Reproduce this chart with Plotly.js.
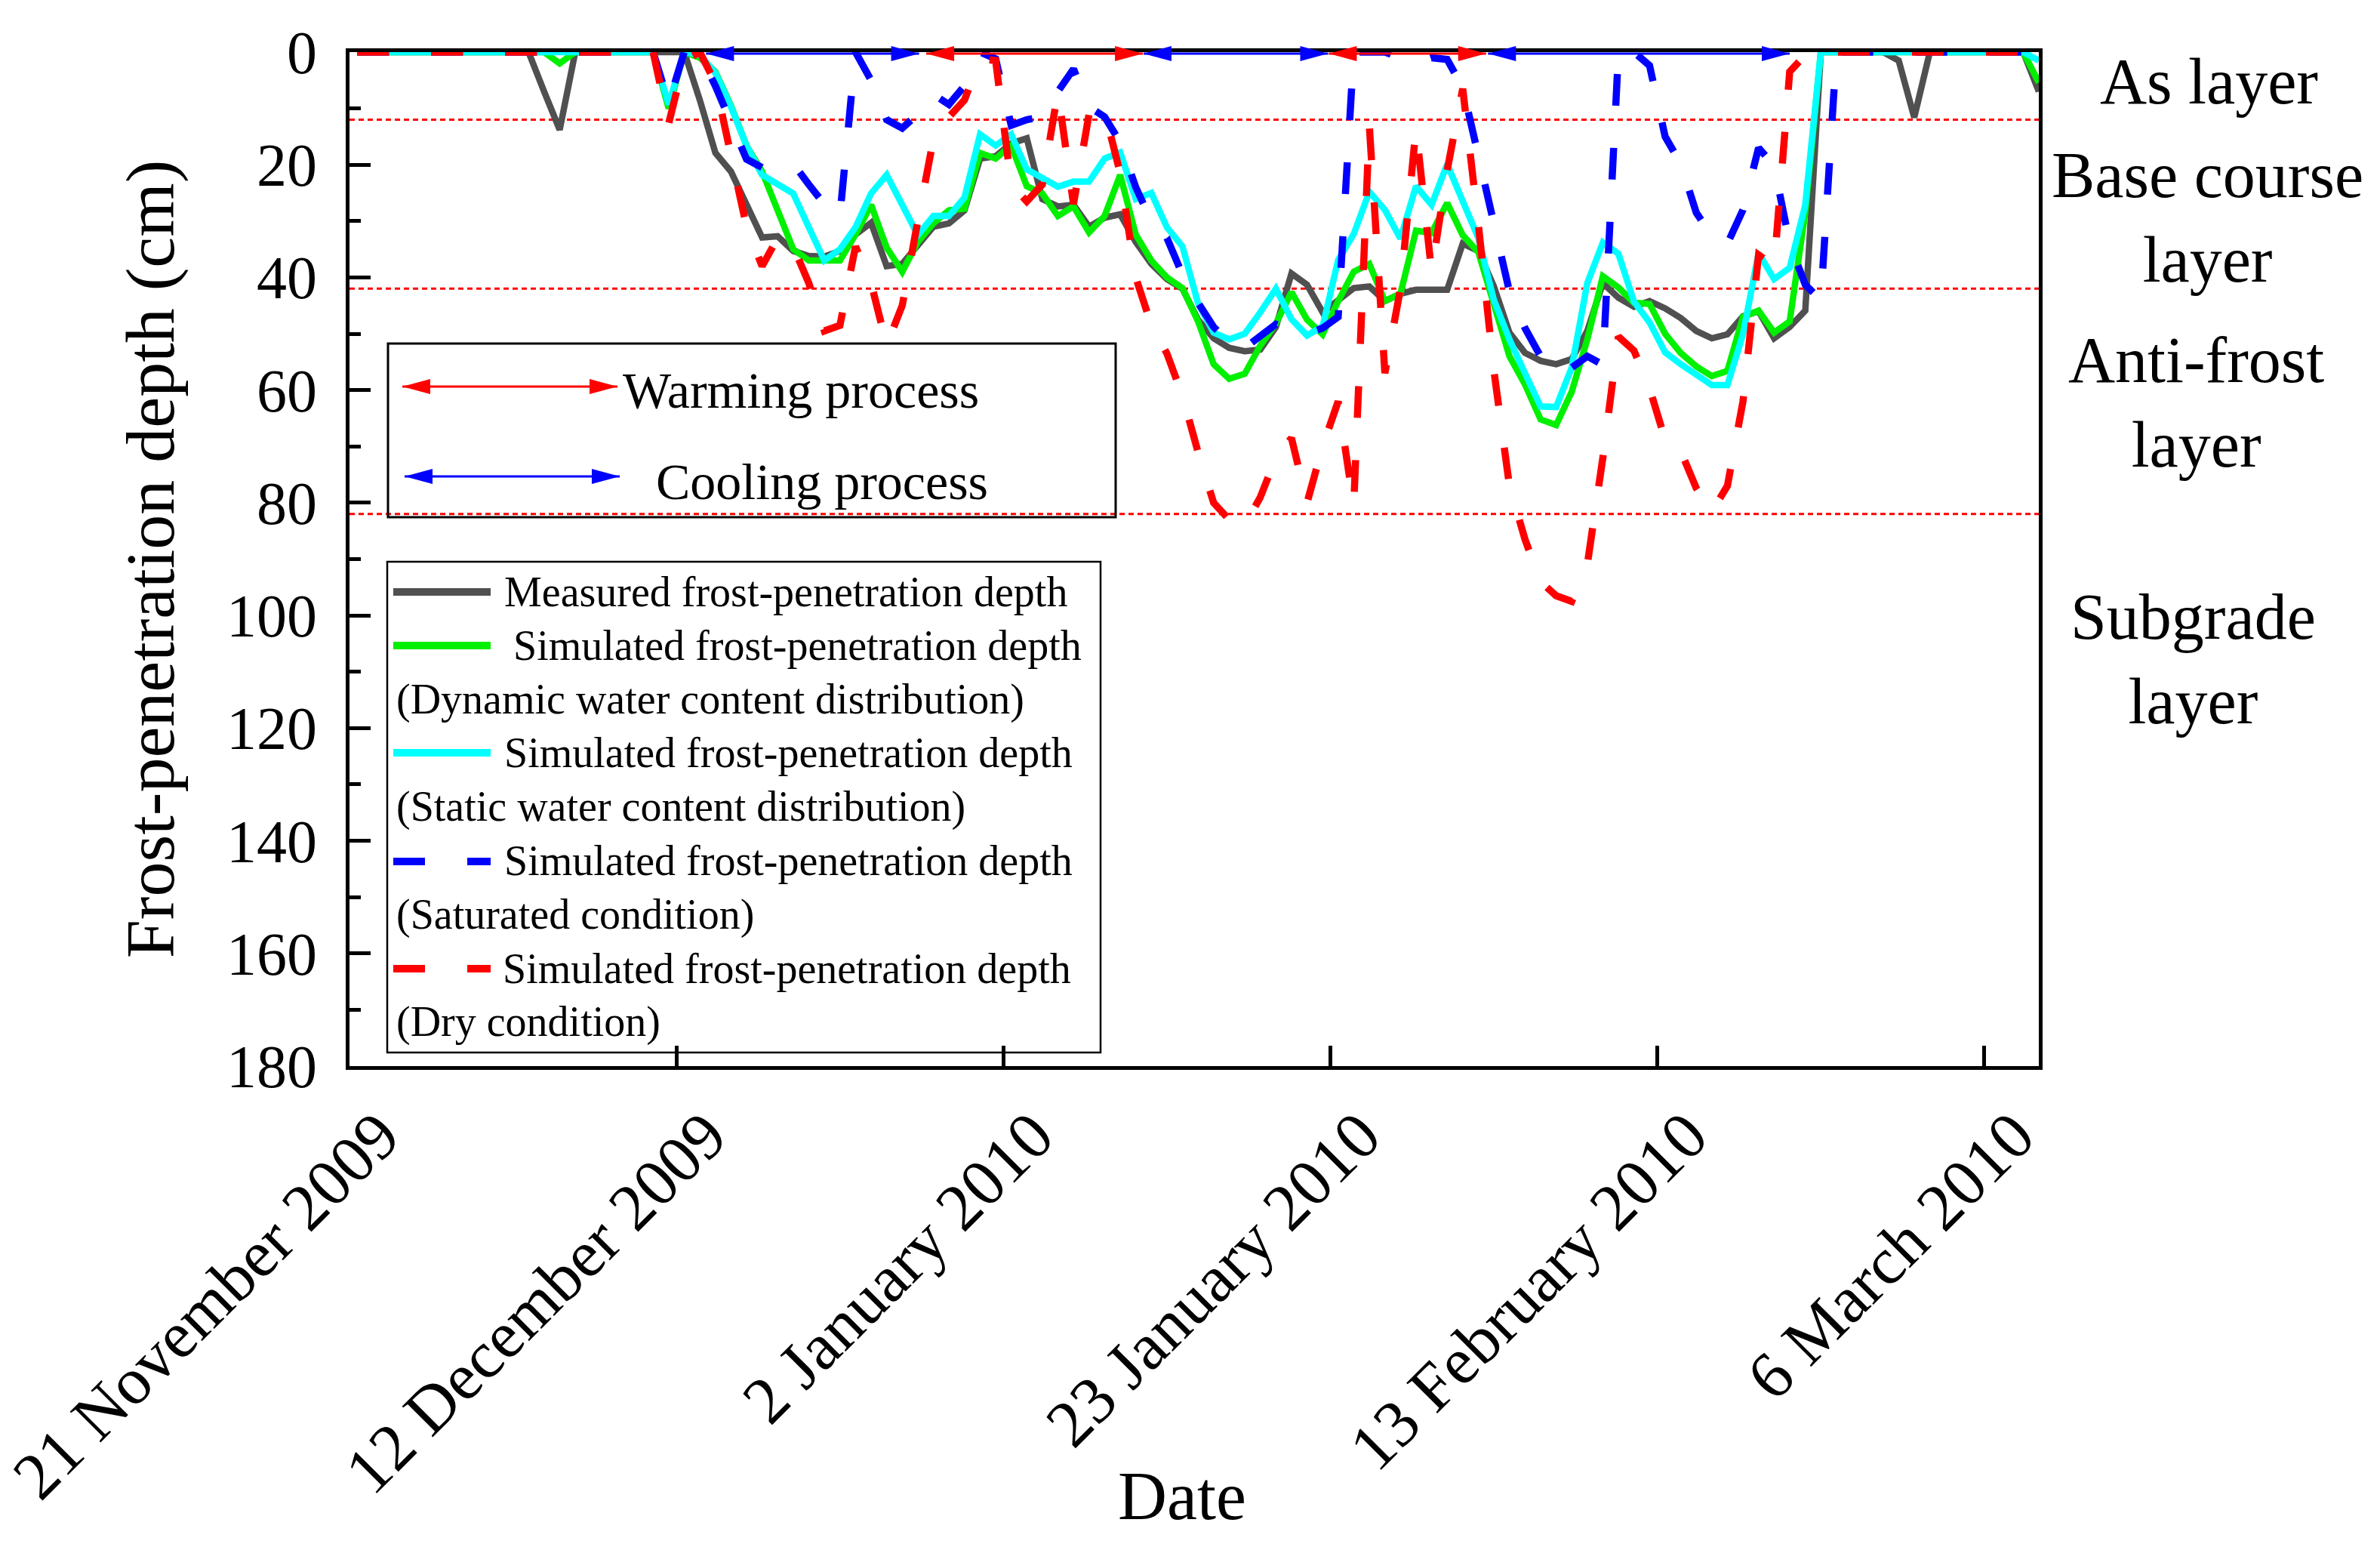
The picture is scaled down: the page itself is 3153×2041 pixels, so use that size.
<!DOCTYPE html>
<html>
<head>
<meta charset="utf-8">
<script src="https://cdn.plot.ly/plotly-3.0.1.min.js"></script>
<style>
  html, body { margin: 0; padding: 0; background: #ffffff; }
  #chart_div { width: 3153px; height: 2041px; }
</style>
</head>
<body>
<div id="chart_div"></div>
<script>
// one reading per day, taken at noon, starting 21 November 2009
var first_day = '2009-11-21';

var measured = [0,0,0,0,0,0,0,0,0,0,0,
    0,7,13.8,0,0,0,0,0,0,0,0,
    8.5,17.9,21.2,27,32.9,32.7,35.3,36.2,36.3,35.3,
    32.4,30.3,38,37.6,34.3,31,30.4,28.1,18.9,18.5,
    16.2,15.3,26.1,27.4,27.1,31,29.4,28.8,33.7,37.6,
    40.3,42,47.5,50.8,52.5,53.1,52.8,48.8,39.3,41.3,
    46.2,44.2,41.9,41.6,44.2,42.9,42.2,42.2,42.2,34,
    35.3,41.6,49.8,53.4,54.8,55.4,54.5,49.5,41,43.6,
    45.2,44.2,45.5,47.2,49.5,50.8,50.1,46.9,46,50.8,
    48.8,45.9,
    0,0,0,0,0,1.5,11.6,0,0,0,0,0,0,0,7];

var sim_dynamic = [0,0,0,0,0,0,0,0,0,0,0,
    0,0,2,0,0,0,0,0,0,10,0,
    1,3.5,9.5,16.6,21.2,27.8,35,37,37,37,
    32.4,27.1,34.7,39,33.7,30.4,28.1,27.8,17.9,18.9,
    16.6,23.8,25.1,29.1,27.4,32,29.1,21.8,32.4,37,
    40,41.9,47.8,55.4,58,57.1,52.1,48.2,42.6,47.5,
    50.1,44.2,39,37.6,44.2,42.9,31.7,32.1,26.8,32.5,
    35.5,44.5,54,59,65.2,66.2,60.3,51,39.8,41.8,
    44.5,44.7,50,53.4,55.8,57.5,56.6,47,45.9,49.8,
    47.8,28.4,
    0,0,0,0,0,0,0,0,0,0,0,0,0,0,5.4];

var sim_static = [0,0,0,0,0,0,0,0,0,0,0,
    0,0,0,0,0,0,0,0,0,9.3,0,
    0.5,3.7,9.7,16.6,21.8,23.3,25.1,31.1,37,35,
    31.1,25.1,21.8,27.1,32.5,29.1,29.1,25.8,14.6,16.6,
    14.6,20.8,22.2,23.9,23,23,18.9,17.8,26.1,25,
    31.1,34.5,44.6,49.8,51,50,46.2,42,47.4,50.3,
    48.7,36.9,32.3,24.8,28,33.1,23.8,27.1,19.9,26.6,
    33,44,51,57,62.9,63,56,41,33.8,35.8,
    44.3,48,53.3,55.4,57.4,59.1,59.1,50.1,35.7,40.3,
    38.3,27.1,
    0,0,0,0,0,0,0,0,0,0,0,0,0,0,1.5];

var sim_saturated = [0,0,0,0,0,0,0,0,0,0,0,
    0,0,0,0,0,0,0,0,0,9,0,
    0.5,6,12.5,19,20.5,20,19.8,23.5,27,29,
    0,5,12,13.5,11,7.5,9.3,6,0,1.2,
    13,12,11.5,7,3,9.7,11.5,16,24,30,
    33,39.5,44.5,48.8,51.5,52.5,50.5,48.3,49.5,50,
    49,47,0,0,0,1,2,1,1.3,6.3,
    18.5,31.5,42.5,49,54,57,56,54,55.5,0,
    0,2.4,15,19.8,28.5,32.6,34,28,17,20.2,
    34,41.3,
    44,0,0,0,0,0,0,0,0,0,0,0,0,0,2.5];

var sim_dry = [0,0,0,0,0,0,0,0,0,0,0,
    0,0,0,0,0,0,0,0,0,12.7,1.5,
    0,5.5,18.3,31,38,33,34.5,41,49.5,48.5,
    34.5,41,52,45,30,15.5,11.5,8.5,1.2,1.5,
    23.5,26.5,23.5,7,27,11,10.5,21.5,40,48.5,
    53.5,61,71,80,83,84,79,72,68.5,80,
    70,62,80.5,13,57,42,13.5,39,21,6.5,
    30.5,56.5,77,86.5,94,96.5,97.5,91,72,50.5,
    53,59.7,68.8,70.8,77.4,81.6,77,62,36,38,
    3.5,0.5,
    0,0,0,0,0,0,0,0,0,0,0,0,0,0,0];

var tick_dates = ['2009-11-21', '2009-12-12', '2010-01-02', '2010-01-23', '2010-02-13', '2010-03-06'];
var tick_labels = ['21 November 2009', '12 December 2009', '2 January 2010', '23 January 2010', '13 February 2010', '6 March 2010'];

// layer boundaries (cm) and the layer names written at the right
var layer_bounds = [12, 42, 82];
var layer_names = ['As layer', 'Base course<br>layer', 'Anti-frost<br>layer', 'Subgrade<br>layer'];

// warming / cooling periods marked along the surface
var process_start = ['2009-12-13 21:36', '2009-12-28 01:00', '2010-01-11 00:00', '2010-01-22 21:36', '2010-02-02 03:00'];
var process_end   = ['2009-12-27 14:00', '2010-01-10 23:00', '2010-01-22 20:30', '2010-02-02 00:00', '2010-02-21 12:00'];
var process_kind  = ['cooling', 'warming', 'cooling', 'warming', 'cooling'];

var legend_lines = ['Measured frost-penetration depth',
    'Simulated frost-penetration depth', '(Dynamic water content distribution)',
    'Simulated frost-penetration depth', '(Static water content distribution)',
    'Simulated frost-penetration depth', '(Saturated condition)',
    'Simulated frost-penetration depth', '(Dry condition)'];


var FONT = 'Liberation Serif, Times New Roman, serif';
var W = 3153, H = 2041;
var L = 463, R = 2701, T = 69, B = 1412;

function fx(px) { return (px - L) / (R - L); }
function fy(py) { return 1 - (py - T) / (B - T); }

function sampleDates(first, count) {
    var out = [];
    var t0 = Date.parse(first + 'T12:00:00Z');
    for (var i = 0; i < count; i++) {
        out.push(new Date(t0 + i * 86400000).toISOString().slice(0, 16).replace('T', ' '));
    }
    return out;
}

function makeTrace(values, color, width, dash) {
    return {
        x: sampleDates(first_day, values.length),
        y: values,
        type: 'scatter',
        mode: 'lines',
        line: {color: color, width: width, dash: dash || 'solid'},
        showlegend: false,
        hoverinfo: 'skip'
    };
}

var GRAY = '#505050', GREEN = '#00F000', CYAN = '#00FFFF', BLUE = '#0000FF', RED = '#FF0000';
var DASH = '42px,56px';

function drawChart() {
    var data = [
        makeTrace(measured, GRAY, 8.5),
        makeTrace(sim_dynamic, GREEN, 8.5),
        makeTrace(sim_static, CYAN, 8.5),
        makeTrace(sim_saturated, BLUE, 9.5, DASH),
        makeTrace(sim_dry, RED, 9.5, DASH)
    ];

    var shapes = [];
    var annotations = [];

    // layer boundaries
    layer_bounds.forEach(function (b) {
        shapes.push({type: 'line', xref: 'paper', x0: 0, x1: 1, yref: 'y', y0: b, y1: b,
            line: {color: RED, width: 3, dash: '7px,5px'}, layer: 'below'});
    });

    // process arrows at the surface
    for (var i = 0; i < process_start.length; i++) {
        var c = process_kind[i] === 'warming' ? RED : BLUE;
        shapes.push({type: 'line', xref: 'x', yref: 'paper', ysizemode: 'pixel', yanchor: 1,
            x0: process_start[i], x1: process_end[i], y0: -2, y1: -2,
            line: {color: c, width: 3}});
        shapes.push({type: 'path', xref: 'x', yref: 'paper', xsizemode: 'pixel', ysizemode: 'pixel',
            xanchor: process_start[i], yanchor: 1, path: 'M0,-2L37,8L37,-12Z',
            fillcolor: c, line: {width: 0}});
        shapes.push({type: 'path', xref: 'x', yref: 'paper', xsizemode: 'pixel', ysizemode: 'pixel',
            xanchor: process_end[i], yanchor: 1, path: 'M0,-2L-37,8L-37,-12Z',
            fillcolor: c, line: {width: 0}});
    }

    // process legend box
    shapes.push({type: 'rect', xref: 'paper', yref: 'paper', x0: fx(514), x1: fx(1478), y0: fy(685), y1: fy(455),
        line: {color: 'black', width: 3}});
    var proc_rows = [{c: RED, y: 512, x0: 533, x1: 818, tx: 823, ty: 517, txt: 'Warming process'},
                     {c: BLUE, y: 631, x0: 536, x1: 821, tx: 867, ty: 638, txt: 'Cooling process'}];
    proc_rows.forEach(function (p) {
        shapes.push({type: 'line', xref: 'paper', yref: 'paper', x0: fx(p.x0), x1: fx(p.x1), y0: fy(p.y), y1: fy(p.y),
            line: {color: p.c, width: 3}});
        shapes.push({type: 'path', xref: 'paper', yref: 'paper', xsizemode: 'pixel', ysizemode: 'pixel',
            xanchor: fx(p.x0), yanchor: fy(p.y), path: 'M0,0L37,10L37,-10Z', fillcolor: p.c, line: {width: 0}});
        shapes.push({type: 'path', xref: 'paper', yref: 'paper', xsizemode: 'pixel', ysizemode: 'pixel',
            xanchor: fx(p.x1), yanchor: fy(p.y), path: 'M0,0L-37,10L-37,-10Z', fillcolor: p.c, line: {width: 0}});
        annotations.push({xref: 'paper', yref: 'paper', x: fx(p.tx), y: fy(p.ty), xanchor: 'left', yanchor: 'middle',
            text: p.txt, showarrow: false, font: {family: FONT, size: 68, color: 'black'}});
    });

    // series legend box
    shapes.push({type: 'rect', xref: 'paper', yref: 'paper', x0: fx(513), x1: fx(1458), y0: fy(1394), y1: fy(744),
        line: {color: 'black', width: 2.5}});
    var samples = [{c: GRAY, y: 784, d: 'solid'}, {c: GREEN, y: 855, d: 'solid'},
                   {c: CYAN, y: 997, d: 'solid'}, {c: BLUE, y: 1141, d: DASH},
                   {c: RED, y: 1283, d: DASH}];
    samples.forEach(function (s) {
        shapes.push({type: 'line', xref: 'paper', yref: 'paper', x0: fx(521), x1: fx(650), y0: fy(s.y), y1: fy(s.y),
            line: {color: s.c, width: 10, dash: s.d}});
    });
    var text_pos = [[666, 784], [678, 855], [523, 927], [666, 997], [523, 1068],
                    [666, 1140], [523, 1211], [664, 1283], [523, 1353]];
    legend_lines.forEach(function (t, j) {
        annotations.push({xref: 'paper', yref: 'paper', x: fx(text_pos[j][0]), y: fy(text_pos[j][1]),
            xanchor: 'left', yanchor: 'middle', text: t, showarrow: false,
            font: {family: FONT, size: 56, color: 'black'}});
    });

    // layer names on the right
    var name_pos = [[2926, 108], [2924, 288], [2909, 533], [2905, 873]];
    layer_names.forEach(function (n, j) {
        annotations.push({xref: 'paper', yref: 'paper', x: fx(name_pos[j][0]), y: fy(name_pos[j][1]),
            xanchor: 'center', yanchor: 'middle', text: n, showarrow: false,
            font: {family: FONT, size: 86, color: 'black'}});
    });

    // x axis title
    annotations.push({xref: 'paper', yref: 'paper', x: fx(1566), y: fy(1981), xanchor: 'center', yanchor: 'middle',
        text: 'Date', showarrow: false, font: {family: FONT, size: 90, color: 'black'}});

    var layout = {
        width: W,
        height: H,
        margin: {l: L, r: W - R, t: T, b: H - B, pad: 0},
        paper_bgcolor: 'white',
        plot_bgcolor: 'white',
        showlegend: false,
        hovermode: false,
        font: {family: FONT, color: 'black'},
        xaxis: {
            type: 'date',
            range: ['2009-11-21 00:00', '2010-03-09 12:00'],
            tickmode: 'array',
            tickvals: tick_dates,
            ticktext: tick_labels,
            tickangle: -45,
            ticks: 'inside',
            ticklen: 27,
            tickwidth: 5,
            tickcolor: 'black',
            showline: true,
            linewidth: 5,
            linecolor: 'black',
            mirror: true,
            showgrid: false,
            zeroline: false,
            ticklabelshift: 40,
            ticklabeloverflow: 'allow',
            tickfont: {family: FONT, size: 88, color: 'black'}
        },
        yaxis: {
            range: [180, 0],
            tick0: 0,
            dtick: 20,
            ticks: 'inside',
            ticklen: 28,
            tickwidth: 5,
            tickcolor: 'black',
            minor: {dtick: 10, ticks: 'inside', ticklen: 15, tickwidth: 5, tickcolor: 'black'},
            showline: true,
            linewidth: 5,
            linecolor: 'black',
            mirror: true,
            showgrid: false,
            zeroline: false,
            ticklabelstandoff: 22,
            tickfont: {family: FONT, size: 80, color: 'black'},
            title: {text: 'Frost-penetration depth (cm)', standoff: 40,
                    font: {family: FONT, size: 92, color: 'black'}}
        },
        shapes: shapes,
        annotations: annotations
    };

    Plotly.newPlot("chart_div", data, layout, {staticPlot: true, displayModeBar: false});
}

drawChart();
</script>
</body>
</html>
